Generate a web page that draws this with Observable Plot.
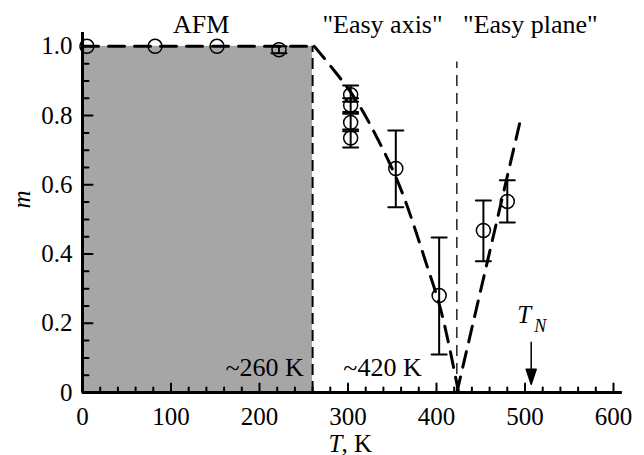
<!DOCTYPE html>
<html><head><meta charset="utf-8">
<script src="https://cdn.jsdelivr.net/npm/d3@7"></script>
<script src="https://cdn.jsdelivr.net/npm/@observablehq/plot@0.6"></script>
<style>body{margin:0;background:#fff}</style>
</head><body><div id="chart"></div>
<script>
// measured points
const temps  = [5, 82, 152, 222, 303, 303, 303, 303, 354, 403, 453, 480];
const mVals  = [1.0, 1.0, 1.0, 0.99, 0.86, 0.83, 0.78, 0.735, 0.647, 0.28, 0.468, 0.552];
const errLo  = [null, null, null, 0.98, 0.84, 0.81, 0.755, 0.708, 0.535, 0.11, 0.379, 0.491];
const errHi  = [null, null, null, 1.0, 0.887, 0.85, 0.805, 0.76, 0.757, 0.448, 0.555, 0.613];
// dashed guide curves
const afmT = [0, 262];
const afmM = [1.0, 1.0];
const easyAxisT = [262, 285, 307, 334, 359, 388, 406, 425];
const easyAxisM = [1.0, 0.928, 0.853, 0.73, 0.592, 0.376, 0.227, 0];
const easyPlaneT = [423, 496];
const easyPlaneM = [0, 0.80];
// region / boundaries
const afmRegion = [{x1: 0, x2: 260, y1: 0, y2: 1.0}];
const boundary1 = 260, boundary2 = 423, boundary2Top = 0.955;
const tN = 507, tNArrowTop = 0.145;
// ticks
const xMajor = [0, 100, 200, 300, 400, 500, 600];
const xMinor = d3.range(0, 601, 20).filter(v => v % 100 !== 0);
const yMajor = [0, 0.2, 0.4, 0.6, 0.8, 1.0];
const yMinor = d3.range(0, 21).map(i => i * 0.05).filter((v, i) => i % 4 !== 0);
const yTickLabels = ["0", "0.2", "0.4", "0.6", "0.8", "1.0"];
// annotations
const notesCenter = [
  {text: "AFM", T: 134, m: 1.038},
  {text: "\"Easy axis\"", T: 339, m: 1.038},
  {text: "\"Easy plane\"", T: 506, m: 1.038},
  {text: "~420 K", T: 339, m: 0.049}
];
const notesEnd = [
  {text: "~260 K", T: 250, m: 0.049}
];

const FONT = "Liberation Serif";
const points = temps.map((t, i) => ({T: t, m: mVals[i], lo: errLo[i], hi: errHi[i]}));
const errs = points.filter(d => d.lo != null);
const lineShape = {draw(ctx, l) { ctx.moveTo(0, 0); ctx.lineTo(0, -l); }};
const arrowShape = {draw(ctx, l) {
  const h = 15, w = 5;
  ctx.moveTo(0, 0); ctx.lineTo(0, -l + h);
  ctx.moveTo(-w, -l + h); ctx.lineTo(0, -l); ctx.lineTo(w, -l + h); ctx.closePath();
}};
const toPts = (xs, ys) => xs.map((x, i) => ({T: x, m: ys[i]}));

const plot = Plot.plot({
  width: 644, height: 455,
  marginLeft: 82, marginRight: 31, marginTop: 32, marginBottom: 63,
  x: {domain: [0, 600]},
  y: {domain: [0, 1.04]},
  style: {fontFamily: FONT, fontSize: "25px", background: "white", color: "black"},
  marks: [
    Plot.rect(afmRegion, {x1: "x1", x2: "x2", y1: "y1", y2: "y2", fill: "#a6a6a6"}),
    Plot.ruleX([boundary1], {y1: 0, y2: 1.0, stroke: "black", strokeWidth: 2, strokeDasharray: "11,6"}),
    Plot.ruleX([boundary2], {y1: 0, y2: boundary2Top, stroke: "black", strokeWidth: 1.3, strokeDasharray: "11,7"}),
    Plot.line(toPts(afmT, afmM), {x: "T", y: "m", stroke: "black", strokeWidth: 3, strokeDasharray: "16,10"}),
    Plot.line(toPts(easyAxisT, easyAxisM), {x: "T", y: "m", stroke: "black", strokeWidth: 3, strokeDasharray: "16,10", curve: "monotone-x"}),
    Plot.line(toPts(easyPlaneT, easyPlaneM), {x: "T", y: "m", stroke: "black", strokeWidth: 3, strokeDasharray: "16,10"}),
    // error bars
    Plot.ruleX(errs, {x: "T", y1: "lo", y2: "hi", stroke: "black", strokeWidth: 2}),
    Plot.vector(errs, {x: "T", y: "lo", length: 15, rotate: 90, anchor: "middle", shape: lineShape, stroke: "black", strokeWidth: 2}),
    Plot.vector(errs, {x: "T", y: "hi", length: 15, rotate: 90, anchor: "middle", shape: lineShape, stroke: "black", strokeWidth: 2}),
    Plot.dot(points, {x: "T", y: "m", r: 7, stroke: "black", strokeWidth: 1.5, fill: "none"}),
    // axes lines
    Plot.ruleY([0], {x1: 0, x2: 610, stroke: "black", strokeWidth: 3}),
    Plot.ruleX([0], {y1: 0, y2: 1.04, stroke: "black", strokeWidth: 3}),
    // inward ticks
    Plot.vector(xMajor, {x: d => d, y: () => 0, length: 9, rotate: 0, anchor: "start", shape: lineShape, stroke: "black", strokeWidth: 2}),
    Plot.vector(xMinor, {x: d => d, y: () => 0, length: 5, rotate: 0, anchor: "start", shape: lineShape, stroke: "black", strokeWidth: 2}),
    Plot.vector(yMajor, {x: () => 0, y: d => d, length: 10, rotate: 90, anchor: "start", shape: lineShape, stroke: "black", strokeWidth: 2}),
    Plot.vector(yMinor, {x: () => 0, y: d => d, length: 6, rotate: 90, anchor: "start", shape: lineShape, stroke: "black", strokeWidth: 2}),
    Plot.axisX({ticks: xMajor, tickSize: 0, tickPadding: 15, label: null, fontSize: 25, fontFamily: FONT}),
    Plot.axisY({ticks: yMajor, tickSize: 0, tickPadding: 10, label: null, fontSize: 25, fontFamily: FONT, tickFormat: d => yTickLabels[yMajor.indexOf(d)]}),
    // axis titles
    Plot.text(["m"], {frameAnchor: "left", dx: -61, dy: -4, rotate: -90, fontStyle: "italic", fontSize: 25, fontFamily: FONT}),
    Plot.text(["T"], {frameAnchor: "bottom-left", dx: 246, dy: 59, lineAnchor: "bottom", textAnchor: "start", fontStyle: "italic", fontSize: 25, fontFamily: FONT}),
    Plot.text([", K"], {frameAnchor: "bottom-left", dx: 259, dy: 59, lineAnchor: "bottom", textAnchor: "start", fontSize: 25, fontFamily: FONT}),
    // annotations
    Plot.text(notesCenter, {x: "T", y: "m", text: "text", textAnchor: "middle", lineAnchor: "bottom", fontSize: 26, fontFamily: FONT}),
    Plot.text(notesEnd, {x: "T", y: "m", text: "text", textAnchor: "end", lineAnchor: "bottom", fontSize: 26, fontFamily: FONT}),
    // T_N
    Plot.vector([tN], {x: d => d, y: () => tNArrowTop, length: 42, rotate: 180, anchor: "start", shape: arrowShape, stroke: "black", fill: "black", strokeWidth: 1.5}),
    Plot.text(["T"], {x: () => tN, y: () => 0.2, dx: -7, lineAnchor: "bottom", textAnchor: "middle", fontStyle: "italic", fontSize: 25, fontFamily: FONT}),
    Plot.text(["N"], {x: () => tN, y: () => 0.176, dx: 9, lineAnchor: "bottom", textAnchor: "middle", fontStyle: "italic", fontSize: 18, fontFamily: FONT})
  ]
});
document.getElementById("chart").appendChild(plot);
</script>
</body></html>
